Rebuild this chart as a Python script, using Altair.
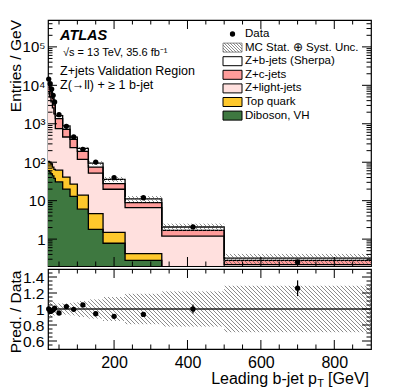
import altair as alt
import numpy as np
import pandas as pd

# ---------------- values ----------------
bin_edges = [20, 24, 28, 32, 36, 40, 60, 80, 100, 130, 170, 230, 330, 500, 900]
data_per_gev = [14500, 11000, 8000, 5500, 3700, 1720, 860, 453, 217, 101, 39.6, 11.9, 2.07, 0.254]
data_rel_err = [0.004, 0.005, 0.005, 0.006, 0.007, 0.006, 0.008, 0.010, 0.012, 0.016, 0.020, 0.029, 0.055, 0.078]
diboson_vh = [60, 55, 50, 44, 38, 31, 20, 13, 6, 1.8, 0.78, 0.28, 0.1, 0.02]
top_quark = [45, 45, 40, 31, 27, 31, 21, 14, 8, 2.8, 0.72, 0.14, 0.05, 0.01]
z_light = [6695, 4900, 3610, 2525, 1735, 683, 412, 212, 105, 47.4, 18.3, 6.18, 1.05, 0.186]
z_c = [5100, 3750, 2730, 1865, 1265, 610, 265, 156, 73, 23, 7.9, 2.3, 0.49, 0.064]
z_b = [2600, 1920, 1410, 980, 672, 279, 168, 56, 36, 20, 8.3, 2.2, 0.38, 0.04]
mc_rel_unc = [0.12, 0.11, 0.10, 0.09, 0.08, 0.07, 0.07, 0.08, 0.10, 0.12, 0.15, 0.19, 0.22, 0.29]

stack_names = ["Diboson, VH", "Top quark", "Z+light-jets", "Z+c-jets", "Z+b-jets (Sherpa)"]
stack_colors = ["#3e7840", "#fec82c", "#ffe0de", "#ff9c9a", "#ffffff"]
legend_labels = ["Data", "MC Stat. \u2295 Syst. Unc.", "Z+b-jets (Sherpa)", "Z+c-jets",
                 "Z+light-jets", "Top quark", "Diboson, VH"]
legend_fills = ["#ffffff", "#ffffff", "#ffffff", "#ff9c9a", "#ffe0de", "#fec82c", "#3e7840"]

main_y_ticks = [1, 10, 100, 1000, 10000, 100000]
ratio_y_ticks = [0.6, 0.8, 1.0, 1.2, 1.4]
x_label_ticks = [200, 400, 600, 800]

# ---------------- geometry ----------------
W, H1, H2 = 323, 246, 80
X_LO, X_HI = 20, 900
Y_LO, Y_HI = 0.2, 5e5
R_LO, R_HI = 0.5, 1.5
L_LO, L_HI = np.log10(Y_LO), np.log10(Y_HI)
FONT = "Liberation Sans"
HATCH = "#5a5a5a"
TITLE_X = -32

XS = alt.Scale(domain=[X_LO, X_HI], nice=False, zero=False)
YS = alt.Scale(type="log", domain=[Y_LO, Y_HI], nice=False)
RS = alt.Scale(domain=[R_LO, R_HI], nice=False, zero=False)

AX_MY = alt.Axis(
    values=main_y_ticks,
    labelExpr="datum.value >= 100 ? '10' + (datum.value == 100 ? '\u00b2' : datum.value == 1000 ? '\u00b3' : datum.value == 10000 ? '\u2074' : '\u2075') : (datum.value == 10 ? '10' : '1')",
    ticks=False, domain=False, grid=False, labelPadding=3, labelFontSize=15, title=None)
AX_RX = alt.Axis(values=x_label_ticks, format="d", ticks=False, domain=False, grid=False,
                 title=None, labelPadding=5)
AX_RY = alt.Axis(values=ratio_y_ticks, format="~g", ticks=False, domain=False, grid=False,
                 labelPadding=4, labelFontSize=15.5, title=None)


def u_of(x):
    return (float(x) - X_LO) / (X_HI - X_LO) * W


def x_of(u):
    return X_LO + u / W * (X_HI - X_LO)


def v_main(y):
    return (L_HI - np.log10(y)) / (L_HI - L_LO) * H1


def y_main(v):
    return 10 ** (L_HI - v / H1 * (L_HI - L_LO))


def v_ratio(r):
    return (R_HI - r) / (R_HI - R_LO) * H2


def r_ratio(v):
    return R_HI - v / H2 * (R_HI - R_LO)


def hatch_px(u0, u1, va, vb, step=4.0):
    out = []
    if vb <= va or u1 <= u0:
        return out
    kmin = int(np.ceil((va - u1) / step))
    kmax = int(np.floor((vb - u0) / step))
    for k in range(kmin, kmax + 1):
        c = k * step
        us = max(u0, va - c)
        ue = min(u1, vb - c)
        if ue - us > 0.1:
            out.append((us, us + c, ue, ue + c))
    return out


n = len(data_per_gev)
lo = np.array(bin_edges[:-1], float)
hi = np.array(bin_edges[1:], float)
center = (lo + hi) / 2
data = np.array(data_per_gev)
comps = np.array([diboson_vh, top_quark, z_light, z_c, z_b], float)
cum = np.cumsum(comps, axis=0)
mc = cum[-1]
unc = np.array(mc_rel_unc)
rel = np.array(data_rel_err)


def mx(field, **kw):
    return alt.X(field, scale=XS, axis=None, **kw)


def my(field, **kw):
    return alt.Y(field, scale=YS, axis=AX_MY, **kw)


def rx(field, **kw):
    return alt.X(field, scale=XS, axis=AX_RX, **kw)


def ry(field, **kw):
    return alt.Y(field, scale=RS, axis=AX_RY, **kw)


def text_layer(txt, x, y, size, align="left", **kw):
    return alt.Chart(pd.DataFrame({"t": [txt]})).mark_text(
        align=align, baseline="middle", fontSize=size, font=FONT, color="black", **kw
    ).encode(text="t:N", x=alt.value(x), y=alt.value(y))


# stacked areas
rows = []
for i, name in enumerate(stack_names):
    top = cum[i]
    bot = cum[i - 1] if i > 0 else np.full(n, 1e-3)
    for j in range(n + 1):
        jj = min(j, n - 1)
        rows.append(dict(comp=name, x=bin_edges[j], top=top[jj], bot=bot[jj]))
stack_df = pd.DataFrame(rows)

areas = alt.Chart(stack_df).mark_area(interpolate="step-after", clip=True).encode(
    x=mx("x:Q"), y=my("top:Q", stack=None), y2="bot:Q",
    color=alt.Color("comp:N", scale=alt.Scale(domain=stack_names, range=stack_colors), legend=None),
)
outlines = alt.Chart(stack_df).mark_line(interpolate="step-after", clip=True, color="black",
                                         strokeWidth=1.3).encode(
    x=mx("x:Q"), y=my("top:Q"), detail="comp:N")

# hatched uncertainty band (main)
segs = []
for j in range(n):
    for us, vs, ue, ve in hatch_px(u_of(lo[j]), u_of(hi[j]),
                                   max(0.0, v_main(mc[j] * (1 + unc[j]))),
                                   min(H1, v_main(mc[j] * (1 - unc[j])))):
        segs.append(dict(xa=x_of(us), xb=x_of(ue), ya=y_main(vs), yb=y_main(ve)))
hatch_main = alt.Chart(pd.DataFrame(segs)).mark_rule(color=HATCH, strokeWidth=0.7, clip=True).encode(
    x=mx("xa:Q"), x2="xb:Q", y=my("ya:Q"), y2="yb:Q")

pts_df = pd.DataFrame(dict(center=center, val=data, lo=data * (1 - rel), hi=data * (1 + rel),
                           ratio=mc / data, rlo=mc / data * (1 - rel), rhi=mc / data * (1 + rel)))
data_err = alt.Chart(pts_df).mark_rule(color="black", strokeWidth=1.2, clip=True).encode(
    x=mx("center:Q"), y=my("lo:Q"), y2="hi:Q")
data_pts = alt.Chart(pts_df).mark_circle(color="black", opacity=1, size=28).encode(
    x=mx("center:Q"), y=my("val:Q"))


# inner ticks (pixel lengths converted to data units)
def y_tick_df(major, minor, big=9, small=4.5):
    r = []
    for v in major:
        r += [dict(v=v, xa=x_of(0), xb=x_of(big)), dict(v=v, xa=x_of(W - big), xb=x_of(W))]
    for v in minor:
        r += [dict(v=v, xa=x_of(0), xb=x_of(small)), dict(v=v, xa=x_of(W - small), xb=x_of(W))]
    return pd.DataFrame(r)


def x_tick_df(height, inv, big=9, small=4.5):
    r = []
    for v in range(50, 900, 50):
        ln = big if v % 200 == 0 else small
        r += [dict(v=v, ya=inv(height - ln), yb=inv(height)), dict(v=v, ya=inv(0), yb=inv(ln))]
    return pd.DataFrame(r)


main_minor = [m * 10 ** k for k in range(-1, 6) for m in range(2, 10) if Y_LO < m * 10 ** k < Y_HI]
ytk_main = alt.Chart(y_tick_df(main_y_ticks, main_minor)).mark_rule(
    color="black", strokeWidth=1, clip=True).encode(x=mx("xa:Q"), x2="xb:Q", y=my("v:Q"))
xtk_main = alt.Chart(x_tick_df(H1, y_main)).mark_rule(color="black", strokeWidth=1, clip=True).encode(
    x=mx("v:Q"), y=my("ya:Q"), y2="yb:Q")

ann = [
    text_layer("ATLAS", 12, 16, 14.5, fontStyle="italic", fontWeight="bold"),
    text_layer("\u221as = 13 TeV, 35.6 fb\u207b\u00b9", 15, 33, 11),
    text_layer("Z+jets Validation Region", 12, 51, 12.5),
    text_layer("Z(\u2192ll) + \u2265 1 b-jet", 12, 64.5, 12.5),
    text_layer("Entries / GeV", TITLE_X, 0, 15.5, align="right", angle=270),
]

# legend (pixel layout converted to data units)
LX0, LX1, LT, LY0, LDY = 175, 194, 197, 14, 13.6
leg_rows = []
for i, (lab, fill) in enumerate(zip(legend_labels, legend_fills)):
    yc = LY0 + LDY * i
    leg_rows.append(dict(label=lab, fill=fill, tx=x_of(LT), ty=y_main(yc), xa=x_of(LX0), xb=x_of(LX1),
                         ya=y_main(yc - 4.5), yb=y_main(yc + 4.5),
                         stroke="black" if i >= 2 else "#888888"))
leg_df = pd.DataFrame(leg_rows)
leg_boxes = alt.Chart(leg_df.iloc[1:]).mark_rect(strokeWidth=1).encode(
    x=mx("xa:Q"), x2="xb:Q", y=my("ya:Q"), y2="yb:Q",
    fill=alt.Color("fill:N", scale=None, legend=None),
    stroke=alt.Color("stroke:N", scale=None, legend=None))
leg_text = alt.Chart(leg_df).mark_text(align="left", baseline="middle", fontSize=11.5, font=FONT,
                                       color="black").encode(
    x=mx("tx:Q"), y=my("ty:Q"), text="label:N")
yc1 = LY0 + LDY
leg_h = pd.DataFrame([dict(xa=x_of(a), ya=y_main(b), xb=x_of(c), yb=y_main(d))
                      for a, b, c, d in hatch_px(LX0, LX1, yc1 - 4.5, yc1 + 4.5, 3.0)])
leg_hatch = alt.Chart(leg_h).mark_rule(color=HATCH, strokeWidth=0.7).encode(
    x=mx("xa:Q"), x2="xb:Q", y=my("ya:Q"), y2="yb:Q")
leg_dot = alt.Chart(leg_df.iloc[:1]).mark_circle(color="black", opacity=1, size=28).encode(
    x=alt.value((LX0 + LX1) / 2), y=alt.value(LY0))

main = alt.layer(areas, outlines, hatch_main, ytk_main, xtk_main, data_err, data_pts,
                 leg_boxes, leg_hatch, leg_text, leg_dot, *ann).properties(width=W, height=H1)

# ---------------- ratio panel ----------------
rsegs = []
for j in range(n):
    for us, vs, ue, ve in hatch_px(u_of(lo[j]), u_of(hi[j]),
                                   max(0.0, v_ratio(1 + unc[j])), min(H2, v_ratio(1 - unc[j]))):
        rsegs.append(dict(xa=x_of(us), xb=x_of(ue), ya=r_ratio(vs), yb=r_ratio(ve)))
hatch_ratio = alt.Chart(pd.DataFrame(rsegs)).mark_rule(color=HATCH, strokeWidth=0.7, clip=True).encode(
    x=rx("xa:Q"), x2="xb:Q", y=ry("ya:Q"), y2="yb:Q")
one_line = alt.Chart(pd.DataFrame({"a": [X_LO], "b": [X_HI], "r": [1.0]})).mark_rule(
    color="#222222", strokeWidth=1.6).encode(x=rx("a:Q"), x2="b:Q", y=ry("r:Q"))
r_err = alt.Chart(pts_df).mark_rule(color="black", strokeWidth=1.2, clip=True).encode(
    x=rx("center:Q"), y=ry("rlo:Q"), y2="rhi:Q")
r_pts = alt.Chart(pts_df).mark_circle(color="black", opacity=1, size=28).encode(
    x=rx("center:Q"), y=ry("ratio:Q"))
ratio_minor = [round(0.5 + 0.05 * k, 2) for k in range(1, 20) if round(0.5 + 0.05 * k, 2) not in ratio_y_ticks]
ytk_ratio = alt.Chart(y_tick_df(ratio_y_ticks, ratio_minor)).mark_rule(
    color="black", strokeWidth=1, clip=True).encode(x=rx("xa:Q"), x2="xb:Q", y=ry("v:Q"))
xtk_ratio = alt.Chart(x_tick_df(H2, r_ratio)).mark_rule(color="black", strokeWidth=1, clip=True).encode(
    x=rx("v:Q"), y=ry("ya:Q"), y2="yb:Q")

xtitles = [
    text_layer("Leading b-jet p", W - 54, 110, 16, align="right"),
    text_layer("T", W - 50.5, 115, 11, align="center"),
    text_layer("[GeV]", W - 2, 110, 16, align="right"),
    text_layer("Pred. / Data", TITLE_X, 43, 15.5, align="center", angle=270),
]

ratio = alt.layer(hatch_ratio, one_line, ytk_ratio, xtk_ratio, r_err, r_pts, *xtitles).properties(
    width=W, height=H2)

chart = alt.vconcat(main, ratio, spacing=1).properties(
    padding={"left": 0, "top": 11, "right": 5, "bottom": 0}
).configure(font=FONT).configure_view(stroke="black", strokeWidth=1.2).configure_axis(
    labelFont=FONT, titleFont=FONT, labelFontSize=16, titleFontSize=16, labelColor="black",
    titleColor="black", titleFontWeight="normal", grid=False)

chart.save("out.html", embed_options={"renderer": "svg", "actions": False})
